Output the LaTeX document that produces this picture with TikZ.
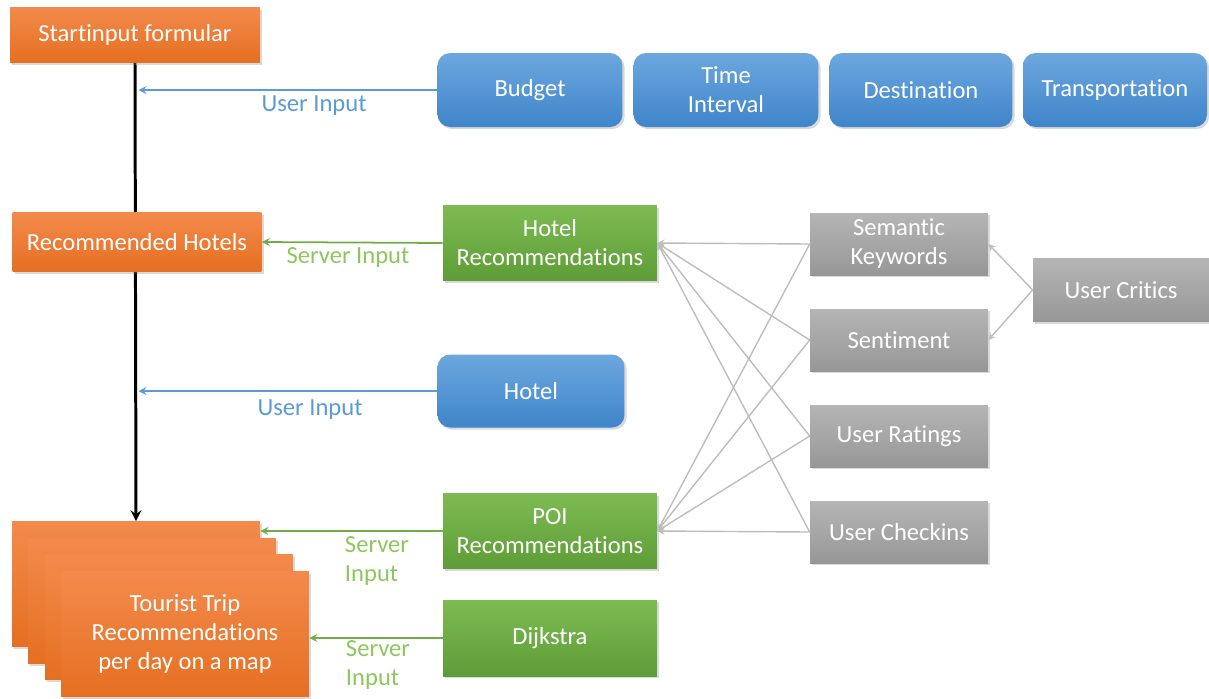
\documentclass[tikz,border=0pt]{standalone}
\usepackage{fontspec}
\setmainfont{Carlito}[Ligatures=NoCommon]
\usetikzlibrary{shadows,backgrounds}

\definecolor{orangetop}{HTML}{F38A4C}
\definecolor{orangebot}{HTML}{E56F21}
\definecolor{bluetop}{HTML}{6CA7DE}
\definecolor{bluebot}{HTML}{3F85CA}
\definecolor{greentop}{HTML}{7DBB52}
\definecolor{greenbot}{HTML}{5E9C37}
\definecolor{graytop}{HTML}{B5B5B5}
\definecolor{graybot}{HTML}{979797}
\definecolor{uiblue}{HTML}{5B9BD5}
\definecolor{srvgreen}{HTML}{70AD47}
\definecolor{srvlabel}{HTML}{8CC75E}
\definecolor{linkgray}{HTML}{BDBDBD}

\tikzset{
    box/.style={text=white, align=center, inner sep=2pt,
        font=\fontsize{14}{16.5}\selectfont,
        drop shadow={shadow xshift=1.2pt, shadow yshift=-1.2pt, opacity=0.3}},
    orangebox/.style={box, top color=orangetop, bottom color=orangebot},
    bluebox/.style={box, rounded corners=0.25cm, top color=bluetop, bottom color=bluebot},
    greenbox/.style={box, top color=greentop, bottom color=greenbot},
    graybox/.style={box, top color=graytop, bottom color=graybot},
    userlabel/.style={text=uiblue, font=\fontsize{14}{16.5}\selectfont},
    srvlabel/.style={text=srvlabel, align=left, font=\fontsize{14}{16.5}\selectfont},
    userarrow/.style={->, draw=uiblue, line width=1pt},
    srvarrow/.style={->, draw=srvgreen, line width=1pt},
    linkarrow/.style={->, draw=linkgray, line width=0.8pt}
}

\begin{document}
\begin{tikzpicture}[>=stealth, x=0.02cm, y=-0.02cm]
    \useasboundingbox (0,0) rectangle (1209,698);

    % left column
    \node[orangebox, minimum width=5.0cm, minimum height=1.1cm]
        (start) at (135,35) {Startinput formular};

    \node[orangebox, minimum width=4.98cm, minimum height=1.18cm]
        (rechotels) at (137,242) {Recommended Hotels};

    \node[orangebox, minimum width=4.96cm, minimum height=2.5cm]
        (trip1) at (136,584) {};
    \node[orangebox, minimum width=4.96cm, minimum height=2.5cm]
        (trip2) at (152,601) {};
    \node[orangebox, minimum width=4.96cm, minimum height=2.5cm]
        (trip3) at (169,617) {};
    \node[orangebox, minimum width=4.96cm, minimum height=2.5cm]
        (trip4) at (185,634) {Tourist Trip\\Recommendations\\per day on a map};

    % user input
    \node[bluebox, minimum width=3.7cm, minimum height=1.48cm]
        (budget) at (530,90) {Budget};
    \node[bluebox, minimum width=3.7cm, minimum height=1.48cm]
        (interval) at (726,90) {Time\\Interval};
    \node[bluebox, minimum width=3.66cm, minimum height=1.48cm]
        (dest) at (921,90) {Destination};
    \node[bluebox, minimum width=3.68cm, minimum height=1.48cm]
        (transport) at (1115,90) {Transportation};

    \node[bluebox, minimum width=3.74cm, minimum height=1.46cm]
        (hotel) at (531,391) {Hotel};

    % server side
    \node[greenbox, minimum width=4.28cm, minimum height=1.5cm]
        (hotelrec) at (550,243) {Hotel\\Recommendations};
    \node[greenbox, minimum width=4.28cm, minimum height=1.5cm]
        (poirec) at (550,531) {POI\\Recommendations};
    \node[greenbox, minimum width=4.28cm, minimum height=1.52cm]
        (dijkstra) at (550,638) {Dijkstra};

    \node[graybox, minimum width=3.56cm, minimum height=1.24cm]
        (keywords) at (899,244) {Semantic\\Keywords};
    \node[graybox, minimum width=3.56cm, minimum height=1.24cm]
        (sentiment) at (899,340) {Sentiment};
    \node[graybox, minimum width=3.56cm, minimum height=1.24cm]
        (ratings) at (899,436) {User Ratings};
    \node[graybox, minimum width=3.56cm, minimum height=1.24cm]
        (checkins) at (899,532) {User Checkins};

    \node[graybox, minimum width=3.52cm, minimum height=1.26cm]
        (critics) at (1121,290) {User Critics};

    % main flow
    \begin{scope}[on background layer]
        \draw[->, line width=1.7pt] (start.south) -- (trip1.north);
    \end{scope}

    \coordinate (in1) at (start.south |- budget.west);
    \coordinate (in2) at (start.south |- hotel.west);

    \draw[userarrow, shorten >=2pt] (budget.west) -- (in1);
    \node[userlabel] (lbl1) at (314,106) {User Input};

    \draw[userarrow, shorten >=2pt] (hotel.west) -- (in2);
    \node[userlabel] (lbl2) at (310,410) {User Input};

    \draw[srvarrow] (hotelrec.west) -- (rechotels.east);
    \node[srvlabel] (lbl3) at (348,257) {Server Input};

    \draw[srvarrow] (poirec.west) -- (poirec.west -| trip1.east);
    \node[srvlabel] (lbl4) at (377,561) {Server\\Input};

    \draw[srvarrow] (dijkstra.west) -- (dijkstra.west -| trip4.east);
    \node[srvlabel] (lbl5) at (378,665) {Server\\Input};

    % features
    \draw[linkarrow] (keywords.west) -- (hotelrec.east);
    \draw[linkarrow] (sentiment.west) -- (hotelrec.east);
    \draw[linkarrow] (ratings.west) -- (hotelrec.east);
    \draw[linkarrow] (checkins.west) -- (hotelrec.east);
    \draw[linkarrow] (keywords.west) -- (poirec.east);
    \draw[linkarrow] (sentiment.west) -- (poirec.east);
    \draw[linkarrow] (ratings.west) -- (poirec.east);
    \draw[linkarrow] (checkins.west) -- (poirec.east);

    \draw[linkarrow] (critics.west) -- (keywords.east);
    \draw[linkarrow] (critics.west) -- (sentiment.east);
\end{tikzpicture}
\end{document}
